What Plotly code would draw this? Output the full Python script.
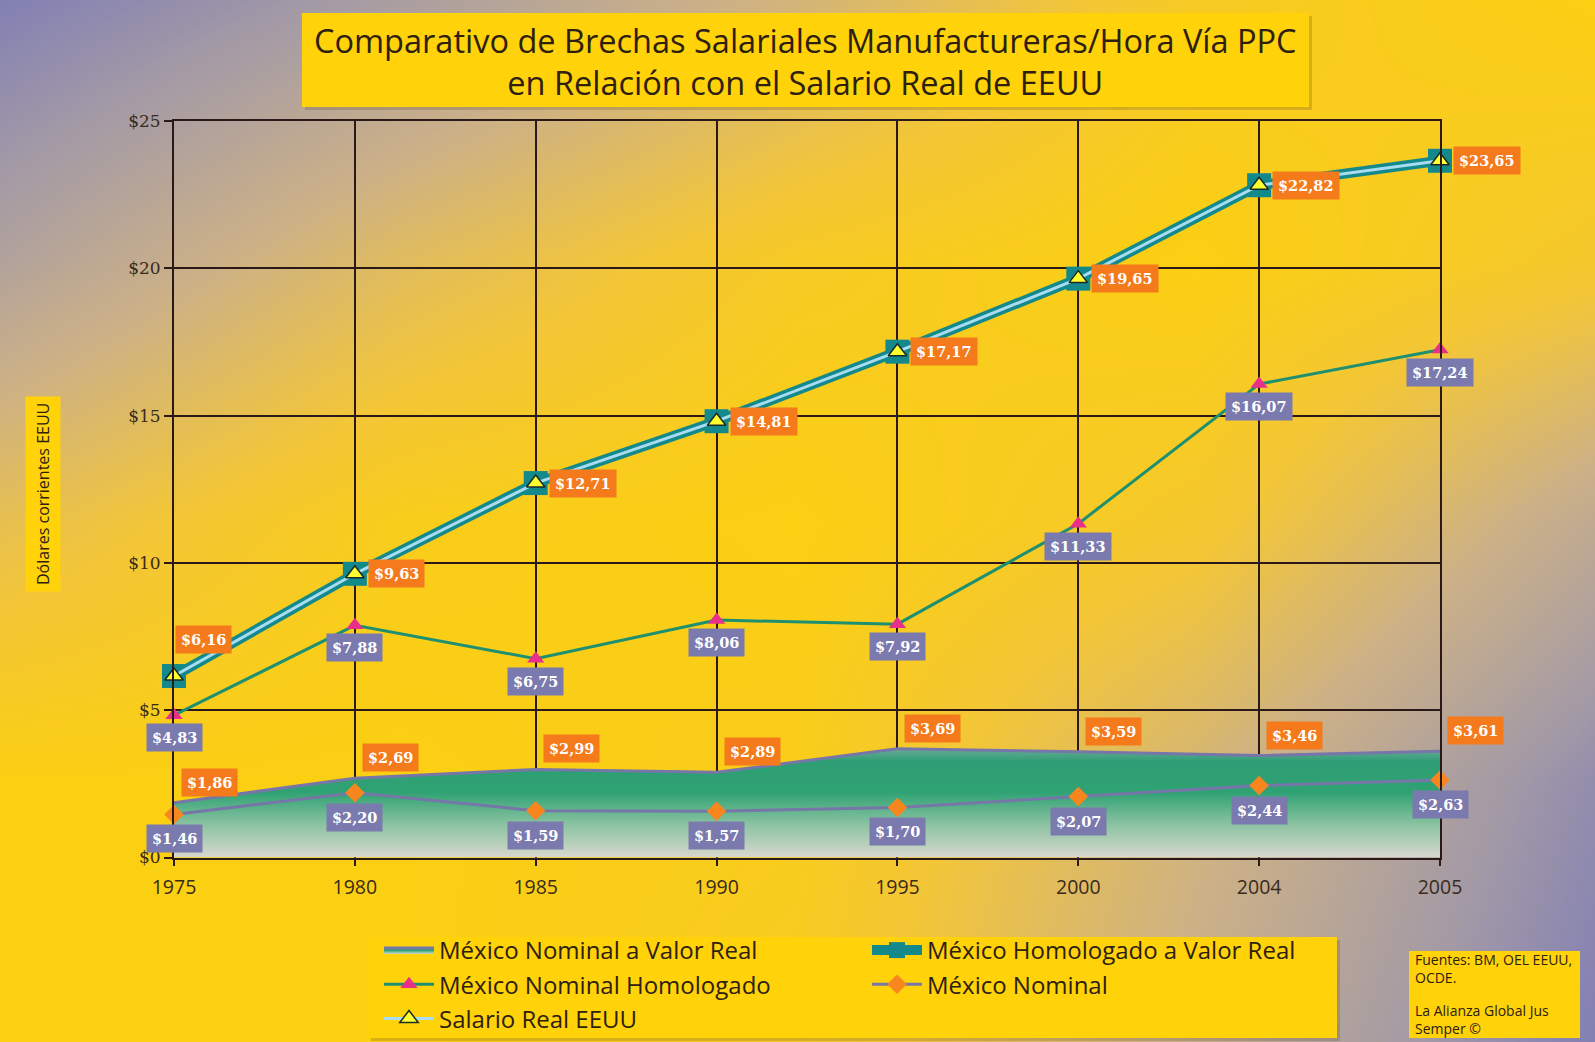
import plotly.graph_objects as go

# ---------------- data ----------------
years = ["1975", "1980", "1985", "1990", "1995", "2000", "2004", "2005"]
nominal_valor_real = [1.86, 2.69, 2.99, 2.89, 3.69, 3.59, 3.46, 3.61]
homologado_valor_real = [6.16, 9.63, 12.71, 14.81, 17.17, 19.65, 22.82, 23.65]
nominal_homologado = [4.83, 7.88, 6.75, 8.06, 7.92, 11.33, 16.07, 17.24]
nominal = [1.46, 2.20, 1.59, 1.57, 1.70, 2.07, 2.44, 2.63]
salario_real_eeuu = [6.16, 9.63, 12.71, 14.81, 17.17, 19.65, 22.82, 23.65]
y_ticks = [0, 5, 10, 15, 20, 25]
y_tick_labels = ["$" + str(t) for t in y_ticks]

series_names = {
    "nvr": "México Nominal a Valor Real",
    "hvr": "México Homologado a Valor Real",
    "nh": "México Nominal Homologado",
    "n": "México Nominal",
    "s": "Salario Real EEUU",
}
title_lines = ["Comparativo de Brechas Salariales Manufactureras/Hora Vía PPC",
               "en Relación con el Salario Real de EEUU"]
y_title = "Dólares corrientes EEUU"
source_lines_1 = ["Fuentes: BM, OEL EEUU,", "OCDE."]
source_lines_2 = ["La Alianza Global Jus", "Semper ©"]

# ---------------- layout geometry (px) ----------------
W, H = 1595, 1042
PL, PR, PT, PB = 174, 1440, 121, 857.5

def fx(px):
    return px / W

def fy(py):
    return 1 - py / H

YELLOW = "#FFD20A"
ORANGE = "#F47A1B"
PURPLE_BOX = "#7B7AAE"
GRID = "#2B1818"
TEXT_DARK = "#2E2010"

fig = go.Figure()

# ---------------- background gradient (styling) ----------------
bg_pos = [0, 0.25, 0.5, 0.75, 1]
bg_z = [  # rows bottom -> top
    [0.0, 0.0, 0.1, 0.55, 1.0],
    [0.0, 0.0, 0.05, 0.45, 0.9],
    [0.3, 0.05, 0.0, 0.15, 0.6],
    [0.7, 0.35, 0.1, 0.0, 0.15],
    [1.0, 0.75, 0.45, 0.1, 0.0],
]
fig.add_trace(go.Heatmap(
    x=bg_pos, y=bg_pos, z=bg_z, zsmooth="best", zmin=0, zmax=1,
    colorscale=[[0, "#FBCF12"], [0.2, "#F3C637"], [0.5, "#CDB186"],
                [0.8, "#A39AA6"], [1, "#8280B4"]],
    showscale=False, hoverinfo="skip", xaxis="x", yaxis="y", showlegend=False,
))

# ---------------- main series ----------------
xi = list(range(len(years)))

fig.add_trace(go.Scatter(
    x=years, y=nominal_valor_real, name=series_names["nvr"], mode="lines",
    line=dict(color="#7676A8", width=3),
    fill="tozeroy",
    fillgradient=dict(type="vertical", start=0, stop=3.7,
                      colorscale=[[0, "#D8D8CE"], [0.3, "#8CC3A2"], [0.6, "#2FA273"],
                                  [0.88, "#2E9E74"], [1, "#6AAA98"]]),
    xaxis="x2", yaxis="y2", legend="legend", legendrank=1, cliponaxis=False,
))
fig.add_trace(go.Scatter(
    x=years, y=nominal, name=series_names["n"], mode="lines+markers",
    line=dict(color="#7676A8", width=3),
    marker=dict(symbol="diamond", size=15, color="#F7861E"),
    xaxis="x2", yaxis="y2", legend="legend2", legendrank=2, cliponaxis=False,
))
fig.add_trace(go.Scatter(
    x=years, y=nominal_homologado, name=series_names["nh"], mode="lines+markers",
    line=dict(color="#1E9070", width=3),
    marker=dict(symbol="triangle-up", size=15, color="#E8308A"),
    xaxis="x2", yaxis="y2", legend="legend", legendrank=2, cliponaxis=False,
))
fig.add_trace(go.Scatter(
    x=years, y=homologado_valor_real, name=series_names["hvr"], mode="lines+markers",
    line=dict(color="#13898B", width=10),
    marker=dict(symbol="square", size=24, color="#13898B"),
    xaxis="x2", yaxis="y2", legend="legend2", legendrank=1, cliponaxis=False,
))
fig.add_trace(go.Scatter(
    x=years, y=salario_real_eeuu, name=series_names["s"], mode="lines+markers",
    line=dict(color="#A8DCF2", width=3),
    marker=dict(symbol="triangle-up", size=16, color="#FFFF30",
                line=dict(color="#1A2A2A", width=1.5)),
    xaxis="x2", yaxis="y2", legend="legend", legendrank=3, cliponaxis=False,
))

# ---------------- data labels ----------------
def fmt(v):
    return "$" + f"{v:.2f}".replace(".", ",")

label_font = dict(family="DejaVu Serif", size=14.5, color="white", weight="bold")
annotations = []

def add_label(i, v, bg, xanchor, yanchor, xshift, yshift):
    annotations.append(dict(
        x=i, y=v, xref="x2", yref="y2", text=fmt(v), showarrow=False,
        bgcolor=bg, borderpad=5, font=label_font,
        xanchor=xanchor, yanchor=yanchor, xshift=xshift, yshift=yshift,
    ))

for i, v in zip(xi, homologado_valor_real):
    if i == 0:
        add_label(i, v, ORANGE, "left", "middle", 1, 37)
    else:
        add_label(i, v, ORANGE, "left", "middle", 13, 0)
for i, v in zip(xi, nominal_homologado):
    add_label(i, v, PURPLE_BOX, "center", "top", 0, -8)
for i, v in zip(xi, nominal):
    add_label(i, v, PURPLE_BOX, "center", "top", 0, -10)
for i, v in zip(xi, nominal_valor_real):
    add_label(i, v, ORANGE, "left", "bottom", 7, 6)

# title (two lines in one text)
annotations.append(dict(
    x=fx(805.5), y=fy(62), xref="paper", yref="paper", text="<br>".join(title_lines),
    showarrow=False, xanchor="center", yanchor="middle", align="center",
    font=dict(family="Open Sans", size=32.5, color=TEXT_DARK)))

# y-axis title in yellow box
annotations.append(dict(
    x=fx(43), y=fy(494), xref="paper", yref="paper", text=y_title,
    textangle=-90, showarrow=False, bgcolor=YELLOW, borderpad=6,
    font=dict(family="Open Sans", size=16, color=TEXT_DARK),
    xanchor="center", yanchor="middle",
))
# source box texts
annotations.append(dict(
    x=fx(1413), y=fy(968), xref="paper", yref="paper",
    text="<br>".join(source_lines_1), showarrow=False, align="left",
    font=dict(family="Open Sans", size=14, color=TEXT_DARK),
    xanchor="left", yanchor="middle",
))
annotations.append(dict(
    x=fx(1413), y=fy(1019), xref="paper", yref="paper",
    text="<br>".join(source_lines_2), showarrow=False, align="left",
    font=dict(family="Open Sans", size=14, color=TEXT_DARK),
    xanchor="left", yanchor="middle",
))

shapes = [
    # title box shadow + box
    dict(type="rect", xref="paper", yref="paper", x0=fx(305), x1=fx(1312),
         y0=fy(110), y1=fy(16), fillcolor="rgba(90,70,30,0.22)", line_width=0, layer="above"),
    dict(type="rect", xref="paper", yref="paper", x0=fx(302), x1=fx(1309),
         y0=fy(107), y1=fy(13), fillcolor=YELLOW, line_width=0, layer="above"),
    # legend box shadow + box
    dict(type="rect", xref="paper", yref="paper", x0=fx(371), x1=fx(1340),
         y0=fy(1041), y1=fy(940), fillcolor="rgba(90,70,30,0.22)", line_width=0, layer="above"),
    dict(type="rect", xref="paper", yref="paper", x0=fx(368), x1=fx(1337),
         y0=fy(1038), y1=fy(937), fillcolor=YELLOW, line_width=0, layer="above"),
    # source box
    dict(type="rect", xref="paper", yref="paper", x0=fx(1409), x1=fx(1580),
         y0=fy(1038), y1=fy(951), fillcolor=YELLOW, line_width=0, layer="above"),
    # dotted edge at the last category
    dict(type="line", xref="x2", yref="y2", xsizemode="pixel", xanchor=len(years) - 1,
         x0=3, x1=3, y0=0, y1=25, line=dict(color=GRID, width=1.5, dash="dot"),
         layer="above"),
]

legend_common = dict(
    bgcolor="rgba(0,0,0,0)", borderwidth=0, orientation="v",
    font=dict(family="Open Sans", size=24, color=TEXT_DARK),
    xanchor="left", yanchor="top", y=fy(928), tracegroupgap=0,
    traceorder="normal", itemwidth=50,
)

fig.update_layout(
    width=W, height=H,
    margin=dict(l=0, r=0, t=0, b=0, pad=0, autoexpand=False),
    paper_bgcolor="#F6C92A",
    plot_bgcolor="rgba(0,0,0,0)",
    xaxis=dict(domain=[0, 1], range=[0, 1], visible=False, fixedrange=True),
    yaxis=dict(domain=[0, 1], range=[0, 1], visible=False, fixedrange=True),
    xaxis2=dict(domain=[fx(PL), fx(PR)], anchor="y2", type="category",
                range=[0, len(years) - 1], showgrid=True, gridcolor=GRID, gridwidth=1.5,
                showline=True, linecolor=GRID, linewidth=2, mirror=True,
                ticks="outside", ticklen=6, tickcolor=GRID, tickwidth=1.5,
                ticklabelstandoff=5,
                tickfont=dict(family="Open Sans", size=19.5, color="#3A2A1A"), zeroline=False),
    yaxis2=dict(domain=[fy(PB), fy(PT)], anchor="x2", range=[0, 25],
                tickvals=y_ticks, ticktext=y_tick_labels, showgrid=True, gridcolor=GRID,
                gridwidth=1.5, showline=True, linecolor=GRID, linewidth=2, mirror=True,
                ticks="outside", ticklen=8, tickcolor=GRID, tickwidth=1.5,
                tickfont=dict(family="DejaVu Serif", size=17, color="#3A2A1A"),
                zeroline=False),
    legend=dict(x=fx(379), **legend_common),
    legend2=dict(x=fx(867), **legend_common),
    annotations=annotations,
    shapes=shapes,
    showlegend=True,
)

fig.write_html("out.html", config={"displayModeBar": False},
               post_script="document.body.style.margin='0';document.body.style.overflow='hidden';")
